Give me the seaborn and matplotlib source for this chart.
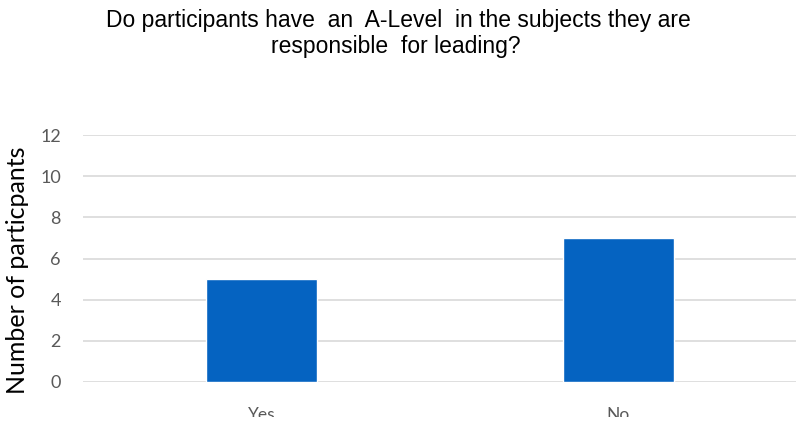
import matplotlib
matplotlib.use("Agg")
import matplotlib.pyplot as plt
from matplotlib.patches import Rectangle
import seaborn as sns
import pandas as pd

answers = ["Yes", "No"]
participants = [5, 7]
y_ticks = [0, 2, 4, 6, 8, 10, 12]
title_lines = ["Do participants have  an  A-Level  in the subjects they are",
               "responsible  for leading?"]
y_label = "Number of particpants"

sns.set_theme(style="white")
plt.rcParams["font.family"] = ["Liberation Sans", "DejaVu Sans"]
label_font = ["Lato", "Liberation Sans", "DejaVu Sans"]

df = pd.DataFrame({"answer": answers, "count": participants})

fig = plt.figure(figsize=(7.96, 4.24), dpi=100)
ax = fig.add_axes([83 / 796, 1 - 382 / 424, 714 / 796, (382 - 135) / 424])

sns.barplot(data=df, x="answer", y="count", color="#0563C1", saturation=1,
            width=0.31, ax=ax, zorder=3)

ax.set_ylim(0, 12)
ax.set_xlim(-0.5, 1.5)
ax.set_yticks(y_ticks)
ax.set_yticklabels([str(t) for t in y_ticks], fontsize=13, color="#595959",
                   family=label_font)
ax.set_xticks(range(len(answers)))
ax.set_xticklabels(answers, fontsize=12.5, color="#595959", family=label_font)
ax.tick_params(axis="y", length=0, pad=16)
ax.tick_params(axis="x", length=0, pad=18)
ax.yaxis.grid(True, color="#d9d9d9", linewidth=1.2, zorder=0)
ax.set_axisbelow(True)
for s in ax.spines.values():
    s.set_visible(False)
ax.set_xlabel("")
ax.set_ylabel("")

fig.text(18 / 796, 1 - 270 / 424, y_label, rotation=90, ha="center", va="center",
         fontsize=18, color="#000000", family=label_font)
fig.text(398 / 796, 1 - 20 / 424, title_lines[0], ha="center", va="center",
         fontsize=16.5, color="#000000")
fig.text(396 / 796, 1 - 47 / 424, title_lines[1], ha="center", va="center",
         fontsize=16.5, color="#000000")

# trim the lower edge of the canvas
fig.patches.append(Rectangle((0, 0), 1, 7 / 424, transform=fig.transFigure,
                             facecolor="white", edgecolor="none", zorder=10))

fig.savefig("out.png", dpi=100, facecolor="white")
